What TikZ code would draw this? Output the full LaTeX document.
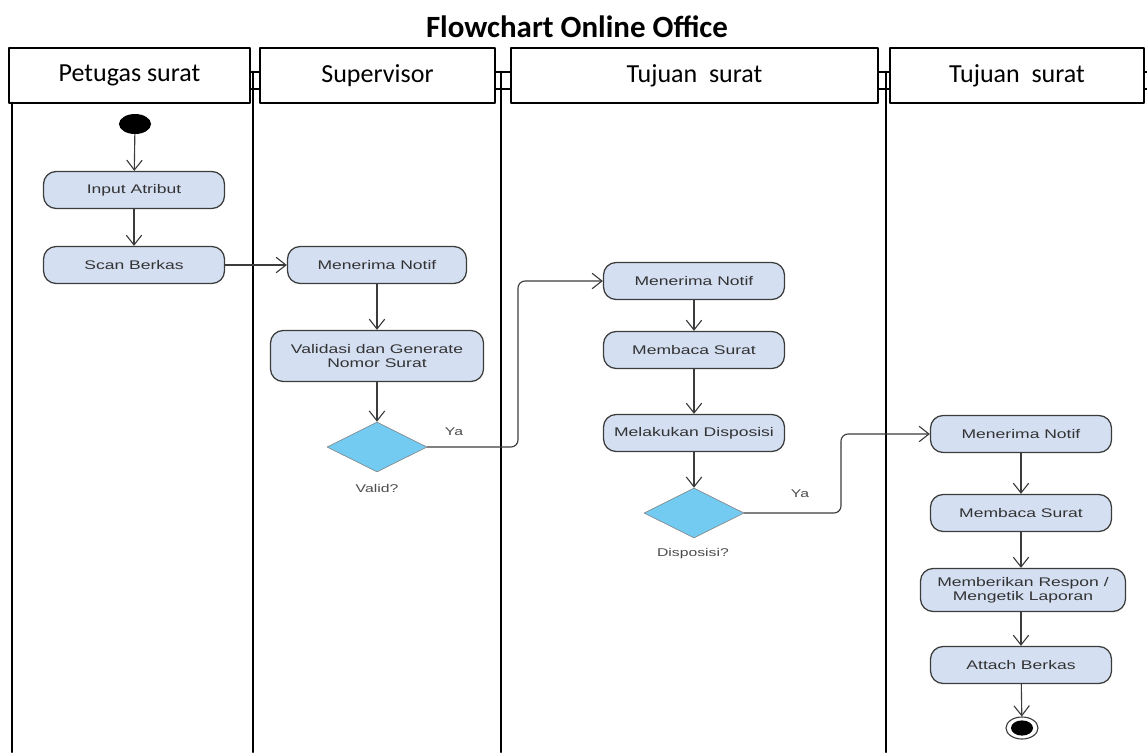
\documentclass[tikz,border=0pt]{standalone}
\usepackage{fontspec}
\setmainfont{Carlito}
\newfontfamily\boxfont[FakeStretch=1.4]{Liberation Sans}
\usetikzlibrary{shapes.geometric,arrows.meta}
\definecolor{isiaksi}{RGB}{212,223,242}
\definecolor{isikeputusan}{RGB}{115,203,242}
\definecolor{garis}{RGB}{60,60,60}
\begin{document}
\begin{tikzpicture}[x=0.025cm,y=-0.025cm,
	line join = round,line cap = round,>={Straight Barb[length=7pt,width=11pt]},
	aksi/.style={rectangle,rounded corners=9pt,draw=garis,line width=0.9pt,fill=isiaksi,text=black!80,font=\boxfont\fontsize{8.9}{10}\selectfont,minimum width=4.525cm,minimum height=0.925cm,inner sep=1pt,align=center},
	keputusan/.style={diamond,draw=gray,fill=isikeputusan,minimum width=2.5cm,minimum height=1.25cm,inner sep=0pt},
	ket/.style={text=black!70,font=\boxfont\fontsize{8}{9}\selectfont},
	kepala/.style={rectangle,draw,line width=1.3pt,minimum height=1.375cm,font=\fontsize{18.5}{20}\selectfont,inner sep=0pt},
	alur/.style={->,draw=garis,line width=0.8pt},
	jalur/.style={line width=2pt}]
	\useasboundingbox (0,0) rectangle (1147,752);
	% judul dan kepala jalur
	\node at (577,27) (nodeJudul) {\fontsize{22}{24}\selectfont\bfseries Flowchart Online Office};
	\node at (129.5,75.5) (kepPetugas) [kepala,minimum width=6.025cm] {Petugas surat};
	\node at (377.5,75.5) (kepSupervisor) [kepala,minimum width=5.875cm] {Supervisor};
	\node at (694.5,75.5) (kepTujuanA) [kepala,minimum width=9.175cm] {Tujuan\ \ surat};
	\node at (1017,75.5) (kepTujuanB) [kepala,minimum width=6.35cm] {Tujuan\ \ surat};
	\draw[line width=1pt] (250,72) -- (260,72) (250,89) -- (260,89);
	\draw[line width=1pt] (495,72) -- (511,72) (495,89) -- (511,89);
	\draw[line width=1pt] (878,72) -- (890,72) (878,89) -- (890,89);
	\draw[line width=1pt] (1144,72) -- (1147,72) (1144,89) -- (1147,89);
	\draw[jalur] (12,103) -- (12,752);
	\draw[jalur] (253,72) -- (253,752);
	\draw[jalur] (501,72) -- (501,752);
	\draw[jalur] (886,72) -- (886,752);
	% petugas surat
	\node at (135,124) (nodeMulai) [ellipse,fill=black,minimum width=0.8cm,minimum height=0.5cm,inner sep=0pt] {};
	\node at (134,190) (nodeInput) [aksi] {Input Atribut};
	\node at (134,265) (nodeScan) [aksi] {Scan Berkas};
	% supervisor
	\node at (377,265) (nodeNotifSpv) [aksi,minimum width=4.475cm] {Menerima Notif};
	\node at (377,356) (nodeValidasi) [aksi,minimum width=5.325cm,minimum height=1.275cm] {Validasi dan Generate\\Nomor Surat};
	\node at (377,447) (nodeCekValid) [keputusan] {};
	\node at (377,488) (ketValid) [ket] {Valid?};
	\node at (454,432) (ketYaA) [ket] {Ya};
	% tujuan surat
	\node at (694,281) (nodeNotifTuj) [aksi] {Menerima Notif};
	\node at (694,350) (nodeBacaTuj) [aksi] {Membaca Surat};
	\node at (694,433) (nodeDisposisi) [aksi] {Melakukan Disposisi};
	\node at (694,513) (nodeCekDisp) [keputusan] {};
	\node at (693,554) (ketDisp) [ket] {Disposisi?};
	\node at (800,494) (ketYaB) [ket] {Ya};
	% tujuan surat (disposisi)
	\node at (1021,434) (nodeNotifAkhir) [aksi] {Menerima Notif};
	\node at (1021,513) (nodeBacaAkhir) [aksi] {Membaca Surat};
	\node at (1023,590) (nodeRespon) [aksi,minimum width=5.125cm,minimum height=1.075cm] {Memberikan Respon /\\Mengetik Laporan};
	\node at (1021,665) (nodeAttach) [aksi] {Attach Berkas};
	\node at (1022,728) (nodeSelesai) [ellipse,draw=garis,line width=0.8pt,minimum width=0.8cm,minimum height=0.55cm,inner sep=0pt] {};
	\node at (nodeSelesai) (nodeSelesaiIsi) [ellipse,fill=black,minimum width=0.55cm,minimum height=0.38cm,inner sep=0pt] {};
	% alur
	\draw[alur] (nodeMulai) -- (nodeInput);
	\draw[alur] (nodeInput) -- (nodeScan);
	\draw[alur] (nodeScan) -- (nodeNotifSpv);
	\draw[alur] (nodeNotifSpv) -- (nodeValidasi);
	\draw[alur] (nodeValidasi) -- (nodeCekValid);
	\draw[alur,rounded corners=5pt] (nodeCekValid.east) -- (518,447) |- (nodeNotifTuj.west);
	\draw[alur] (nodeNotifTuj) -- (nodeBacaTuj);
	\draw[alur] (nodeBacaTuj) -- (nodeDisposisi);
	\draw[alur] (nodeDisposisi) -- (nodeCekDisp);
	\draw[alur,rounded corners=5pt] (nodeCekDisp.east) -- (841,513) |- (nodeNotifAkhir.west);
	\draw[alur] (nodeNotifAkhir) -- (nodeBacaAkhir);
	\draw[alur] (nodeBacaAkhir) -- (nodeRespon.north -| nodeBacaAkhir);
	\draw[alur] (nodeRespon.south -| nodeAttach) -- (nodeAttach);
	\draw[alur] (nodeAttach) -- (nodeSelesai);
\end{tikzpicture}
\end{document}
